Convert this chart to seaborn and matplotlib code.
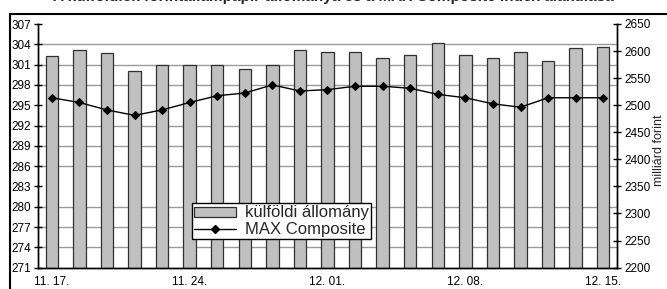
import numpy as np
import pandas as pd
import matplotlib
matplotlib.use("Agg")
import matplotlib.pyplot as plt
import seaborn as sns
from matplotlib.patches import Patch, Rectangle
from matplotlib.lines import Line2D

# --- DATA ---
dates = ["11. 17.", "11. 18.", "11. 19.", "11. 20.", "11. 21.",
         "11. 24.", "11. 25.", "11. 26.", "11. 27.", "11. 28.",
         "12. 01.", "12. 02.", "12. 03.", "12. 04.", "12. 05.",
         "12. 08.", "12. 09.", "12. 10.", "12. 11.", "12. 12.",
         "12. 15."]
# külföldi állomány, milliárd forint (right axis)
stock = [2591, 2602, 2596, 2564, 2575, 2575, 2575, 2567, 2575, 2602,
         2599, 2599, 2587, 2593, 2614, 2593, 2587, 2599, 2581, 2605,
         2608]
# MAX Composite index (left axis)
max_index = [296.1, 295.4, 294.3, 293.5, 294.3, 295.4, 296.4, 296.8, 298.0, 297.1,
             297.3, 297.8, 297.8, 297.5, 296.6, 296.1, 295.2, 294.7, 296.1, 296.1,
             296.1]
left_ticks = np.arange(271, 308, 3)
right_ticks = np.arange(2200, 2651, 50)
shown_dates = dates[::5]

df = pd.DataFrame({"datum": dates, "allomany": stock, "max": max_index})

sns.set_theme(style="white")
plt.rcParams["font.family"] = ["Liberation Sans", "DejaVu Sans"]

fig = plt.figure(figsize=(6.67, 2.89), dpi=100)
ax_bar = fig.add_axes([38 / 667, 21.4 / 289, 579 / 667, 243.6 / 289])
ax_line = ax_bar.twinx()

# oszlopok a jobb skálán
sns.barplot(data=df, x="datum", y="allomany", ax=ax_bar, color="#C0C0C0",
            saturation=1, edgecolor="#303030", linewidth=0.9, width=0.45)
# vonal a bal skálán
sns.pointplot(data=df, x="datum", y="max", ax=ax_line, color="black",
              markers="D", markersize=4, linewidth=1, errorbar=None)

ax_bar.set_ylim(2200, 2650)
ax_line.set_ylim(271, 307)

# right axis
ax_bar.yaxis.tick_right()
ax_bar.set_yticks(right_ticks)
ax_bar.set_yticks(np.linspace(2200, 2650, len(left_ticks)), minor=True)
ax_bar.grid(True, which="minor", axis="y", color="#9a9a9a", lw=1)
ax_bar.grid(False, which="major")
ax_bar.set_axisbelow(True)
ax_bar.tick_params(axis="y", which="minor", length=0, right=False, left=False)
ax_bar.tick_params(axis="y", which="major", direction="inout", length=6, width=1,
                   labelsize=8.5, pad=2, right=True, left=False,
                   labelright=True, labelleft=False, colors="black")
ax_bar.set_ylabel("")
ax_bar.set_xlabel("")

# left axis
ax_line.yaxis.tick_left()
ax_line.set_yticks(left_ticks)
ax_line.tick_params(axis="y", direction="inout", length=6, width=1, labelsize=8.5,
                    pad=2, left=True, right=False, labelleft=True, labelright=False,
                    colors="black")
ax_line.set_ylabel("")
ax_line.set_xlabel("")
ax_line.grid(False)

# category axis, every 5th date labelled
ax_bar.set_xticks(range(0, len(dates), 5))
ax_bar.set_xticklabels(shown_dates)
ax_bar.tick_params(axis="x", length=0, labelsize=8.5, pad=6, colors="black")
ax_bar.set_xlim(-0.5, len(dates) - 0.5)

for ax in (ax_bar, ax_line):
    ax.spines["top"].set_visible(False)
    for s in ("left", "right", "bottom"):
        ax.spines[s].set_color("black")
        ax.spines[s].set_linewidth(1)

fig.text(659 / 667, 1 - 150 / 289, "milliárd forint", rotation=90,
         ha="center", va="center", fontsize=9)

handles = [Patch(facecolor="#C0C0C0", edgecolor="#303030", lw=0.9),
           Line2D([], [], color="black", lw=1, marker="D", markersize=4)]
leg = ax_line.legend(handles, ["külföldi állomány", "MAX Composite"],
                     loc="lower left", bbox_to_anchor=(0.266, 0.117),
                     borderaxespad=0, fontsize=12, frameon=True, fancybox=False,
                     framealpha=1, edgecolor="black", handlelength=2.5,
                     handleheight=0.55, labelspacing=0.1, borderpad=0.12,
                     handletextpad=0.55)
leg.get_frame().set_linewidth(1)

# outer chart frame and the clipped title above it
fig.add_artist(Rectangle((9.5 / 667, -0.5), 2, 0.5 + (289 - 13.5) / 289,
                         transform=fig.transFigure, fill=False,
                         edgecolor="black", lw=1.5, clip_on=False))
fig.text(0.5, 1 - 4 / 289,
         "A külföldiek forintállampapír-állománya és a MAX Composite index alakulása",
         ha="center", va="bottom", fontsize=11, fontweight="bold")

fig.savefig("out.png", dpi=100)
